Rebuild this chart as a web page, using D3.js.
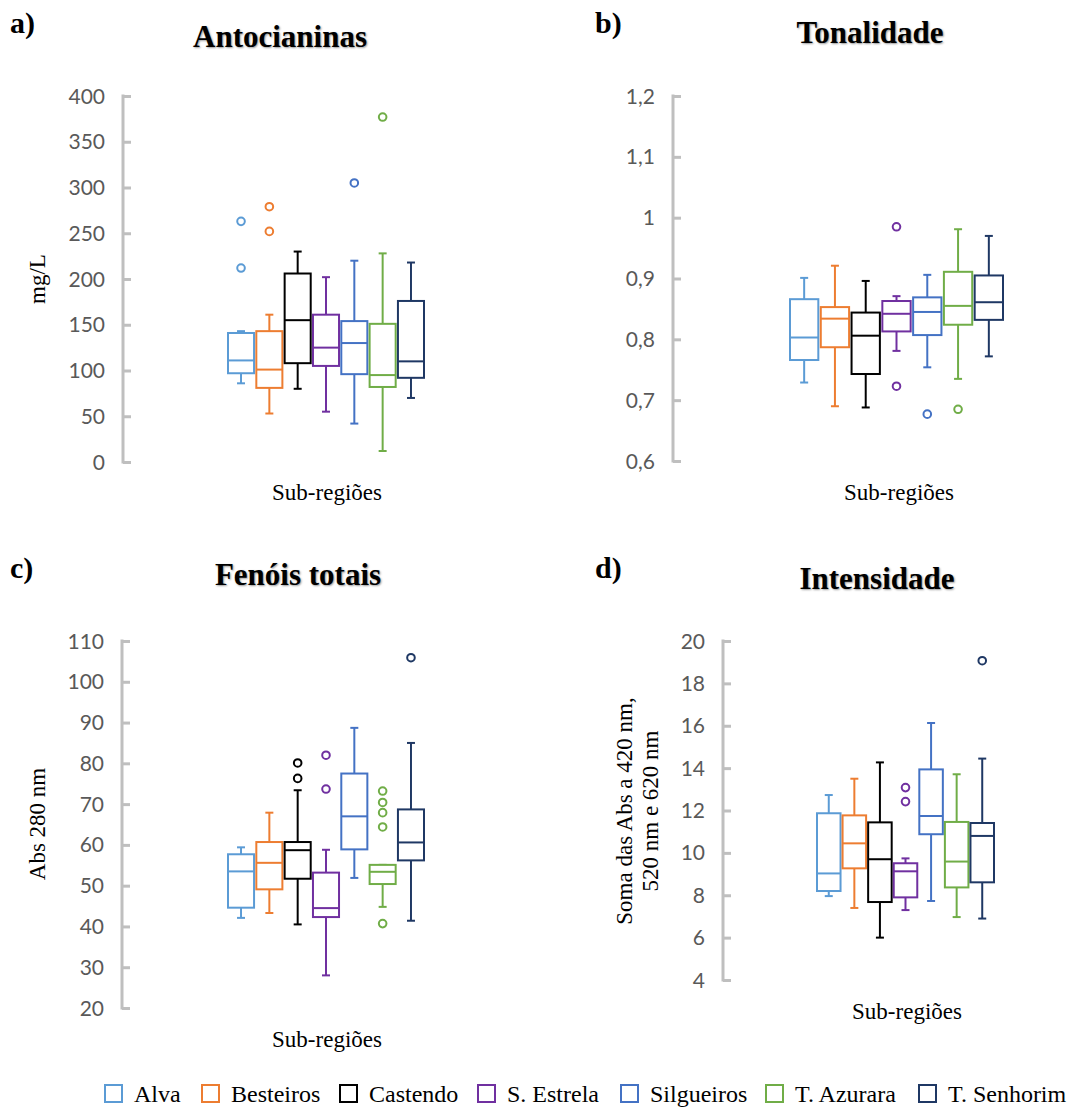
<!DOCTYPE html>
<html>
<head>
<meta charset="utf-8">
<script src="https://cdn.jsdelivr.net/npm/d3@7"></script>
<style>
  body { margin: 0; background: #fff; }
  svg { display: block; }
  .tick-lbl { font-family: Lato, "Open Sans", sans-serif; font-size: 21px; fill: #595959; }
  .serif { font-family: "Liberation Serif", "Times New Roman", serif; fill: #000; }
</style>
</head>
<body>
<svg id="chart" width="1073" height="1108"></svg>
<script>
// sub-regions and their colours
var regions = ["Alva", "Besteiros", "Castendo", "S. Estrela", "Silgueiros", "T. Azurara", "T. Senhorim"];
var colors = ["#5B9BD5", "#ED7D31", "#000000", "#7030A0", "#4472C4", "#70AD47", "#1F3864"];

// [min whisker, q1, median, q3, max whisker] per region
var antocianinas = [[86, 97, 111, 141, 143], [53, 81, 101, 143, 161], [80, 108, 155, 206, 230],
    [55, 105, 125, 161, 202], [42, 96, 130, 154, 220], [12, 82, 95, 151, 228], [70, 92, 110, 176, 218]];
var antocianinasOut = [[263, 212], [279, 252], [], [], [305], [377], []];

var tonalidade = [[0.729, 0.766, 0.803, 0.866, 0.901], [0.690, 0.787, 0.834, 0.853, 0.921],
    [0.688, 0.743, 0.806, 0.844, 0.896], [0.781, 0.813, 0.842, 0.863, 0.871],
    [0.754, 0.807, 0.845, 0.869, 0.906], [0.735, 0.824, 0.855, 0.911, 0.981],
    [0.772, 0.832, 0.861, 0.905, 0.970]];
var tonalidadeOut = [[], [], [], [0.985, 0.723], [0.677], [0.685], []];

var fenois = [[42.1, 44.6, 53.5, 57.7, 59.4], [43.3, 49.1, 55.6, 60.7, 67.9], [40.5, 51.7, 58.7, 60.7, 73.4],
    [28.0, 42.3, 44.5, 53.2, 58.8], [51.9, 58.9, 67.0, 77.5, 88.7], [44.8, 50.4, 53.4, 55.1, 55.1],
    [41.4, 56.2, 60.6, 68.7, 85.0]];
var fenoisOut = [[], [], [80.1, 76.3], [82.0, 73.7], [], [73.2, 70.4, 67.9, 64.4, 40.7], [105.9]];

var intensidade = [[7.96, 8.20, 9.03, 11.87, 12.73], [7.40, 9.27, 10.45, 11.77, 13.50],
    [6.00, 7.68, 9.70, 11.44, 14.27], [7.30, 7.90, 9.13, 9.51, 9.74], [7.73, 10.88, 11.74, 13.94, 16.13],
    [6.97, 8.37, 9.59, 11.46, 13.71], [6.90, 8.61, 10.80, 11.41, 14.45]];
var intensidadeOut = [[], [], [], [13.08, 12.42], [], [], [19.07]];

// axis ranges / ticks
var antoDomain = [0, 400], antoStep = 50;
var tonDomain = [0.6, 1.2], tonStep = 0.1;
var fenDomain = [20, 110], fenStep = 10;
var intDomain = [4, 20], intStep = 2;

var svg = d3.select("#chart");
var fmtComma = function(d) { return String(+d.toFixed(2)).replace(".", ","); };

var panels = [
    { tag: "a)", tagX: 10, tagY: 33, title: "Antocianinas", titleX: 280, titleY: 47,
      data: antocianinas, out: antocianinasOut, domain: antoDomain, step: antoStep,
      axisX: 123, yTop: 96, yBot: 462, x0: 228, x1: 424, fmt: d3.format("d"),
      ylab: ["mg/L"], ylabX: 45, ylabY: 279, xlabX: 327, xlabY: 500 },
    { tag: "b)", tagX: 595, tagY: 33, title: "Tonalidade", titleX: 870, titleY: 43,
      data: tonalidade, out: tonalidadeOut, domain: tonDomain, step: tonStep,
      axisX: 673, yTop: 96, yBot: 461, x0: 790, x1: 1003, fmt: fmtComma,
      ylab: [], xlabX: 899, xlabY: 500 },
    { tag: "c)", tagX: 10, tagY: 578, title: "Fenóis totais", titleX: 298, titleY: 585,
      data: fenois, out: fenoisOut, domain: fenDomain, step: fenStep,
      axisX: 122, yTop: 641, yBot: 1008, x0: 228, x1: 424, fmt: d3.format("d"),
      ylab: ["Abs 280 nm"], ylabX: 45, ylabY: 824, xlabX: 327, xlabY: 1047 },
    { tag: "d)", tagX: 595, tagY: 578, title: "Intensidade", titleX: 877, titleY: 589,
      data: intensidade, out: intensidadeOut, domain: intDomain, step: intStep,
      axisX: 723, yTop: 641, yBot: 980, x0: 817, x1: 994, fmt: d3.format("d"),
      ylab: ["Soma das Abs a 420 nm,", "520 nm e 620 nm"], ylabX: 632, ylabY: 811, xlabX: 907, xlabY: 1019 }
];

panels.forEach(function(p) {
    var g = svg.append("g");
    var y = d3.scaleLinear().domain(p.domain).range([p.yBot, p.yTop]);
    var x = d3.scaleBand().domain(regions).range([p.x0, p.x1]).paddingInner(0.08);
    var n = Math.round((p.domain[1] - p.domain[0]) / p.step);
    var ticks = d3.range(n + 1).map(function(i) { return p.domain[0] + i * p.step; });

    // tag + title
    g.append("text").attr("class", "serif").attr("x", p.tagX).attr("y", p.tagY)
        .attr("font-size", 30).attr("font-weight", "bold").text(p.tag);
    g.append("text").attr("class", "serif").attr("x", p.titleX).attr("y", p.titleY)
        .attr("text-anchor", "middle").attr("font-size", 31).attr("font-weight", "bold")
        .style("text-shadow", "1px 1px 2px #999").text(p.title);

    // y axis: grey line with ticks pointing right
    var axis = d3.axisRight(y).tickValues(ticks).tickSize(8).tickFormat("");
    var ag = g.append("g").attr("transform", "translate(" + p.axisX + ",0)").call(axis);
    ag.select(".domain").remove();
    ag.selectAll(".tick line").attr("stroke", "#BFBFBF").attr("stroke-width", 3);
    g.append("line").attr("x1", p.axisX).attr("x2", p.axisX)
        .attr("y1", y(p.domain[1]) - 1.5).attr("y2", y(p.domain[0]) + 1.5)
        .attr("stroke", "#BFBFBF").attr("stroke-width", 3);
    g.selectAll(".tick-lbl").data(ticks).enter().append("text")
        .attr("class", "tick-lbl")
        .attr("x", p.axisX - 18).attr("y", function(d) { return y(d); })
        .attr("dy", "0.36em").attr("text-anchor", "end")
        .text(p.fmt);

    // y title
    if (p.ylab.length) {
        var yt = g.append("text").attr("class", "serif").attr("font-size", 23)
            .attr("text-anchor", "middle")
            .attr("transform", "translate(" + p.ylabX + "," + p.ylabY + ") rotate(-90)");
        p.ylab.forEach(function(s, i) {
            yt.append("tspan").attr("x", 0).attr("y", (i - (p.ylab.length - 1)) * 0 + i * 26 - (p.ylab.length - 1) * 0).text(s);
        });
    }
    // x title
    g.append("text").attr("class", "serif").attr("x", p.xlabX).attr("y", p.xlabY)
        .attr("text-anchor", "middle").attr("font-size", 23).text("Sub-regiões");

    // boxes
    var bw = x.bandwidth();
    var cap = 8;
    regions.forEach(function(r, i) {
        var s = p.data[i], c = colors[i];
        var cx = x(r) + bw / 2;
        var bg = g.append("g").attr("stroke", c).attr("stroke-width", 2).attr("fill", "none");
        bg.append("line").attr("x1", cx).attr("x2", cx).attr("y1", y(s[3])).attr("y2", y(s[4]));
        bg.append("line").attr("x1", cx).attr("x2", cx).attr("y1", y(s[1])).attr("y2", y(s[0]));
        bg.append("line").attr("x1", cx - cap / 2).attr("x2", cx + cap / 2).attr("y1", y(s[4])).attr("y2", y(s[4]));
        bg.append("line").attr("x1", cx - cap / 2).attr("x2", cx + cap / 2).attr("y1", y(s[0])).attr("y2", y(s[0]));
        bg.append("rect").attr("x", x(r)).attr("width", bw)
            .attr("y", y(s[3])).attr("height", y(s[1]) - y(s[3])).attr("fill", "#fff");
        bg.append("line").attr("x1", x(r)).attr("x2", x(r) + bw).attr("y1", y(s[2])).attr("y2", y(s[2]));
        bg.selectAll("circle").data(p.out[i]).enter().append("circle")
            .attr("cx", cx).attr("cy", function(d) { return y(d); }).attr("r", 3.8);
    });
});

// legend
var legX = [104, 201, 339, 477, 620, 765, 918];
var lg = svg.append("g");
regions.forEach(function(r, i) {
    lg.append("rect").attr("x", legX[i] + 1).attr("y", 1085).attr("width", 17).attr("height", 17)
        .attr("fill", "none").attr("stroke", colors[i]).attr("stroke-width", 2);
    lg.append("text").attr("class", "serif").attr("x", legX[i] + 30).attr("y", 1102)
        .attr("font-size", 24).text(r);
});
</script>
</body>
</html>
